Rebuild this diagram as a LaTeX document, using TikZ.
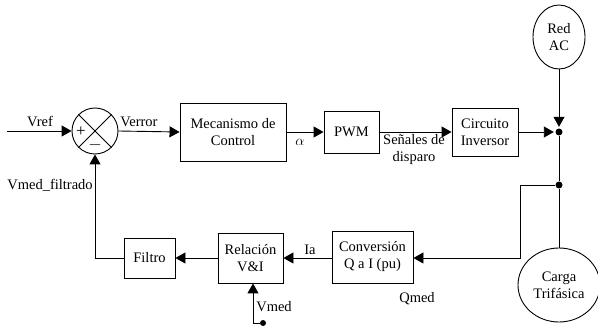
\documentclass[tikz,border=0pt]{standalone}
\usepackage{fontspec}
\setmainfont{Liberation Serif}
\usetikzlibrary{arrows.meta,shapes.geometric}
\begin{document}
\begin{tikzpicture}[x=1pt,y=-1pt,
  every node/.style={font=\fontsize{14.5}{17}\selectfont},
  blk/.style={draw,line width=0.9pt,inner sep=0pt,align=center},
  ell/.style={draw,ellipse,line width=0.9pt,inner sep=0pt,align=center},
  jdot/.style={circle,fill,inner sep=0pt,minimum size=7pt},
  conn/.style={line width=0.9pt},
  arr/.style={conn,-{Triangle[length=10pt,width=11pt]}},
  lbl/.style={inner sep=1pt},
  sgn/.style={inner sep=0pt,font=\fontsize{17}{17}\selectfont}]
\useasboundingbox (0,0) rectangle (598,326);
% blocks
\node[blk,circle,minimum size=46pt] (sum) at (95,131) {};
\draw[line width=0.9pt] (sum.north west) -- (sum.south east) (sum.north east) -- (sum.south west);
\node[sgn] (plus) at (81,132) {+};
\node[sgn] (minus) at (95,145) {$-$};
\node[blk,minimum width=106pt,minimum height=58pt] (mec) at (233,132) {Mecanismo de\\Control};
\node[blk,minimum width=55pt,minimum height=42pt] (pwm) at (351.5,132) {PWM};
\node[blk,minimum width=66pt,minimum height=48pt] (inv) at (485,132) {Circuito\\Inversor};
\node[jdot] (j1) at (559,132) {};
\node[ell,minimum width=52pt,minimum height=64pt] (red) at (559,37) {Red\\AC};
\node[jdot] (j2) at (559,185) {};
\node[ell,minimum width=82pt,minimum height=74pt] (carga) at (559,285) {Carga\\Trifásica};
\coordinate (c1) at (520,185);
\coordinate (c2) at (520,258);
\node[blk,minimum width=81pt,minimum height=52pt] (conv) at (372.5,257) {Conversión\\Q a I (pu)};
\node[blk,minimum width=65pt,minimum height=50pt] (rel) at (250.5,258) {Relación\\V\&I};
\node[blk,minimum width=51pt,minimum height=40pt] (fil) at (149.5,258) {Filtro};
\coordinate (vin) at (7,131);
\coordinate (fb) at (95,258);
\node[jdot,minimum size=6pt] (jv) at (263,323) {};
\coordinate (cv) at (253,323);
% connectors
\draw[arr] (vin) -- (sum.west);
\draw[arr] (sum.east) -- (mec.west);
\draw[arr] (mec.east) -- (pwm.west);
\draw[arr] (pwm.east) -- (inv.west);
\draw[arr,shorten >=1.5pt] (inv.east) -- (j1.west);
\draw[arr,shorten >=1.5pt] (red.south) -- (j1.north);
\draw[conn] (j1) -- (j2);
\draw[conn] (j2) -- (carga.north);
\draw[arr] (j2) -- (c1) -- (c2) -- (conv.east |- c2);
\draw[arr] (conv.west |- rel.east) -- (rel.east);
\draw[arr] (rel.west) -- (fil.east);
\draw[arr] (fil.west) -- (fb) -- (sum.south);
\draw[arr] (jv) -- (cv) -- (cv |- rel.south);
% labels
\node[lbl,anchor=base] (lvref) at (40,127) {Vref};
\node[lbl,anchor=base] (lverr) at (139,127) {Verror};
\node[lbl,anchor=base] (lalpha) at (300,146) {$\alpha$};
\node[lbl,align=center] (lsen) at (414,150) {Señales de\\disparo};
\node[lbl,anchor=base] (lia) at (310,255) {Ia};
\node[lbl,anchor=base] (lvmed) at (274,312) {Vmed};
\node[lbl,anchor=base] (lqmed) at (417,302) {Qmed};
\node[lbl,anchor=base] (lvmf) at (50,190) {Vmed\_filtrado};
\end{tikzpicture}
\end{document}
